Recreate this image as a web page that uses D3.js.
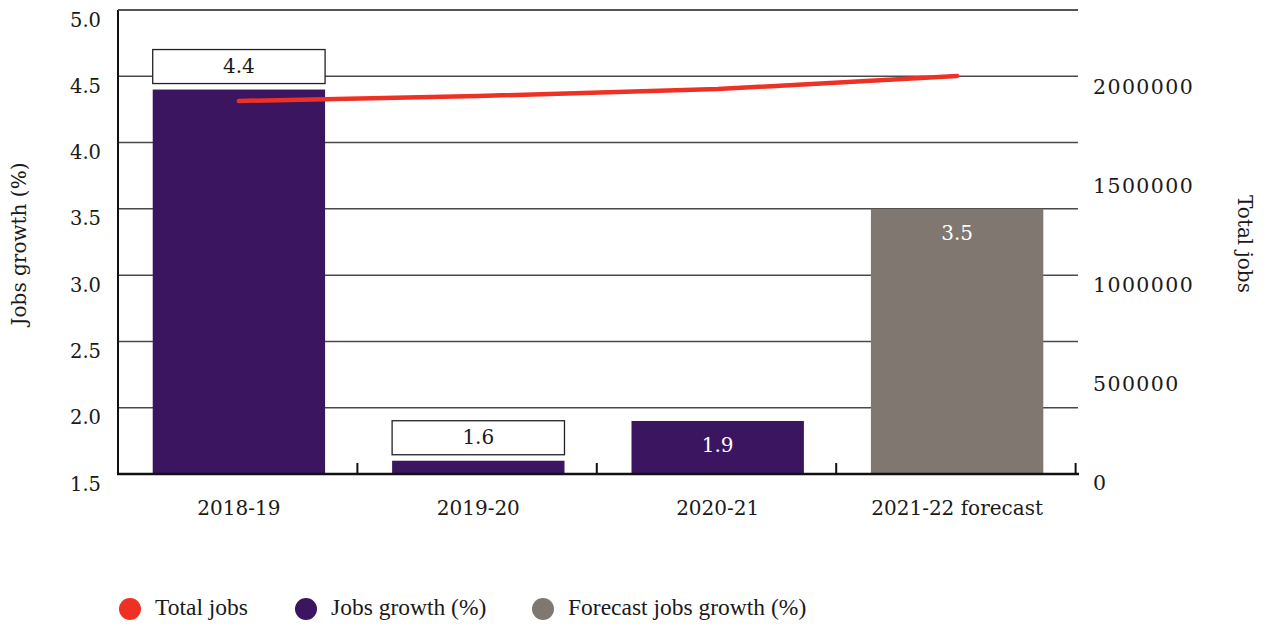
<!DOCTYPE html>
<html>
<head>
<meta charset="utf-8">
<script src="https://cdn.jsdelivr.net/npm/d3@7"></script>
<style>
  html, body { margin: 0; padding: 0; background: #fff; }
  svg { display: block; }
  text { font-family: "DejaVu Serif", Georgia, serif; fill: #1a1a1a; }
  .legend text { font-family: "Liberation Serif", "Times New Roman", serif; }
</style>
</head>
<body>
<svg id="chart" width="1268" height="628"></svg>
<script>
// Financial years shown on the x axis
const categories = ["2018-19", "2019-20", "2020-21", "2021-22 forecast"];
// Annual jobs growth, percent (last year is a forecast)
const jobsGrowth = [4.4, 1.6, 1.9, 3.5];
const isForecast = [false, false, false, true];
// Total number of jobs, right axis
const totalJobs = [1884000, 1909000, 1944000, 2010000];
// Axis ticks
const leftTicks = [1.5, 2.0, 2.5, 3.0, 3.5, 4.0, 4.5, 5.0];
const rightTicks = [0, 500000, 1000000, 1500000, 2000000];
// Legend entries
const legendLabels = ["Total jobs", "Jobs growth (%)", "Forecast jobs growth (%)"];

const colors = { line: "#ee3124", bar: "#3b1560", forecast: "#7f7770" };

const svg = d3.select("#chart");
const plot = { left: 118, right: 1078, top: 10, bottom: 474 };

const x = d3.scaleBand()
  .domain(categories)
  .range([plot.left, plot.right])
  .paddingInner(0.28)
  .paddingOuter(0.145);

const yL = d3.scaleLinear().domain([1.5, 5.0]).range([plot.bottom, plot.top]);
const yR = d3.scaleLinear().domain([0, 2000000]).range([plot.bottom, 78]);

// Horizontal gridlines at every left-axis tick
svg.append("g")
  .selectAll("line")
  .data(leftTicks.filter(t => t > 1.5))
  .join("line")
  .attr("x1", plot.left).attr("x2", plot.right)
  .attr("y1", d => yL(d)).attr("y2", d => yL(d))
  .attr("stroke", "#4a4a4a").attr("stroke-width", 1.5);

// Left axis labels
svg.append("g")
  .selectAll("text")
  .data(leftTicks)
  .join("text")
  .attr("x", 101)
  .attr("y", d => yL(d) + 11)
  .attr("text-anchor", "end")
  .attr("dominant-baseline", "middle")
  .attr("font-size", 19.5)
  .text(d => d3.format(".1f")(d));

// Right axis labels
svg.append("g")
  .selectAll("text")
  .data(rightTicks)
  .join("text")
  .attr("x", 1093)
  .attr("y", d => yR(d) + 10)
  .attr("dominant-baseline", "middle")
  .attr("font-size", 20.5)
  .attr("letter-spacing", 1.4)
  .text(d => d3.format("d")(d));

// Bars
const bars = categories.map((c, i) => ({ cat: c, value: jobsGrowth[i], forecast: isForecast[i] }));
svg.append("g")
  .selectAll("rect")
  .data(bars)
  .join("rect")
  .attr("x", d => x(d.cat))
  .attr("width", x.bandwidth())
  .attr("y", d => yL(d.value))
  .attr("height", d => yL(1.5) - yL(d.value))
  .attr("fill", d => d.forecast ? colors.forecast : colors.bar);

// Value labels: boxed above the bar, or inside it in white
const labelAbove = new Set(["2018-19", "2019-20"]);
const labels = svg.append("g");
bars.forEach(d => {
  if (labelAbove.has(d.cat)) {
    const top = yL(d.value) - 6;
    labels.append("rect")
      .attr("x", x(d.cat)).attr("width", x.bandwidth())
      .attr("y", top - 34).attr("height", 34)
      .attr("fill", "#fff").attr("stroke", "#222").attr("stroke-width", 1.3);
    labels.append("text")
      .attr("x", x(d.cat) + x.bandwidth() / 2)
      .attr("y", top - 16)
      .attr("text-anchor", "middle").attr("dominant-baseline", "middle")
      .attr("font-size", 20)
      .text(d3.format(".1f")(d.value));
  } else {
    labels.append("text")
      .attr("x", x(d.cat) + x.bandwidth() / 2)
      .attr("y", yL(d.value) + 26)
      .attr("text-anchor", "middle").attr("dominant-baseline", "middle")
      .attr("font-size", 20)
      .style("fill", "#fff")
      .text(d3.format(".1f")(d.value));
  }
});

// Axis frame: left line, top line, bottom baseline
svg.append("line")
  .attr("x1", plot.left).attr("x2", plot.left)
  .attr("y1", plot.top).attr("y2", plot.bottom)
  .attr("stroke", "#111").attr("stroke-width", 2);
svg.append("line")
  .attr("x1", plot.left).attr("x2", plot.right)
  .attr("y1", plot.top).attr("y2", plot.top)
  .attr("stroke", "#4a4a4a").attr("stroke-width", 1.5);
svg.append("line")
  .attr("x1", plot.left - 1).attr("x2", plot.right + 1)
  .attr("y1", plot.bottom).attr("y2", plot.bottom)
  .attr("stroke", "#111").attr("stroke-width", 2.5);

// Category separator ticks at the right edge of each band
const step = x.step();
const sepX = categories.map((c, i) => plot.left + (i + 1) * step);
svg.append("g")
  .selectAll("line")
  .data(sepX)
  .join("line")
  .attr("x1", d => d).attr("x2", d => d)
  .attr("y1", plot.bottom).attr("y2", plot.bottom - 11)
  .attr("stroke", "#111").attr("stroke-width", 2);

// Category labels
svg.append("g")
  .selectAll("text")
  .data(categories)
  .join("text")
  .attr("x", d => x(d) + x.bandwidth() / 2)
  .attr("y", 509)
  .attr("text-anchor", "middle").attr("dominant-baseline", "middle")
  .attr("font-size", 20)
  .text(d => d);

// Total jobs line on the right axis
const line = d3.line()
  .x((d, i) => x(categories[i]) + x.bandwidth() / 2)
  .y(d => yR(d));
svg.append("path")
  .datum(totalJobs)
  .attr("d", line)
  .attr("fill", "none")
  .attr("stroke", colors.line)
  .attr("stroke-width", 4.5)
  .attr("stroke-linecap", "round")
  .attr("stroke-linejoin", "round");

// Axis titles
svg.append("text")
  .attr("transform", "translate(20,244) rotate(-90)")
  .attr("text-anchor", "middle").attr("dominant-baseline", "middle")
  .attr("font-size", 20)
  .text("Jobs growth (%)");
svg.append("text")
  .attr("transform", "translate(1243,244) rotate(90)")
  .attr("text-anchor", "middle").attr("dominant-baseline", "middle")
  .attr("font-size", 20)
  .text("Total jobs");

// Legend
const legendColors = [colors.line, colors.bar, colors.forecast];
const legendX = [130, 306, 543];
const legend = svg.append("g").attr("class", "legend");
legendLabels.forEach((t, i) => {
  legend.append("circle")
    .attr("cx", legendX[i]).attr("cy", 609).attr("r", 11)
    .attr("fill", legendColors[i]);
  legend.append("text")
    .attr("x", legendX[i] + 25).attr("y", 610)
    .attr("dominant-baseline", "middle")
    .attr("font-size", 23.5)
    .text(t);
});
</script>
</body>
</html>
